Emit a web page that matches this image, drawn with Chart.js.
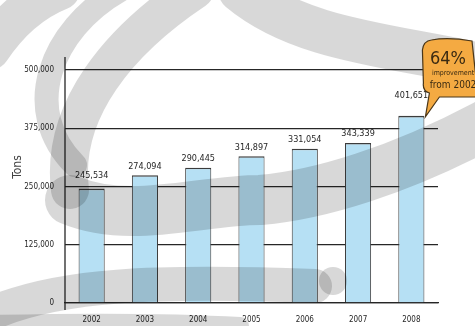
<!DOCTYPE html>
<html>
<head>
<meta charset="utf-8">
<script src="https://cdn.jsdelivr.net/npm/chart.js@4.4.1/dist/chart.umd.min.js"></script>
<style>
  html, body { margin: 0; padding: 0; background: #ffffff; }
  #wrap { width: 475px; height: 326px; }
</style>
</head>
<body>
<div id="wrap"><canvas id="chart" width="475" height="326"></canvas></div>
<script>
// Annual tonnage, 2002-2008
const categories = ['2002', '2003', '2004', '2005', '2006', '2007', '2008'];
const tonnage = [245534, 274094, 290445, 314897, 331054, 343339, 401651];
const valueLabels = ['245,534', '274,094', '290,445', '314,897', '331,054', '343,339', '401,651'];
const yTicks = [0, 125000, 250000, 375000, 500000];
const yTickLabels = ['0', '125,000', '250,000', '375,000', '500,000'];
const calloutLines = ['64%', 'improvement', 'from 2002'];
const calloutIndex = 6;

const NARROW = "'Liberation Sans Narrow', 'DejaVu Sans Condensed', 'Arial Narrow', sans-serif";
const INK = '#262626';

// Soft grey emblem behind the chart, laid over with multiply
function drawEmblem(ctx) {
  ctx.save();
  ctx.globalCompositeOperation = 'multiply';
  ctx.strokeStyle = 'rgb(216,216,216)';
  ctx.fillStyle = 'rgb(216,216,216)';
  ctx.lineCap = 'round';
  ctx.lineJoin = 'round';
  const band = (w, pts) => {
    ctx.lineWidth = w;
    ctx.beginPath();
    ctx.moveTo(pts[0], pts[1]);
    for (let i = 2; i < pts.length; i += 6) {
      ctx.bezierCurveTo(pts[i], pts[i + 1], pts[i + 2], pts[i + 3], pts[i + 4], pts[i + 5]);
    }
    ctx.stroke();
  };
  band(40, [-10, 50, 10, 20, 35, 0, 60, -10]);
  band(24, [120, -10, 50, 30, 20, 110, 75, 165]);
  band(38, [195, -10, 120, 40, 60, 110, 70, 190]);
  band(50, [70, 200, 130, 225, 200, 200, 260, 200,
            320, 195, 400, 170, 485, 125]);
  band(34, [-5, 312, 60, 285, 150, 280, 315, 286]);
  band(44, [240, -10, 300, 40, 390, 45, 480, 65]);
  band(18, [-10, 324, 80, 322, 170, 322, 240, 326]);
  ctx.beginPath();
  ctx.arc(333, 281, 14, 0, Math.PI * 2);
  ctx.fill();
  ctx.restore();
}

function drawCallout(chart) {
  const ctx = chart.ctx;
  const hb = chart.getDatasetMeta(0).data[calloutIndex];
  const tipX = hb.x + hb.width / 2 + 1;
  const tipY = hb.y;
  const L = tipX - 2, T = 40, R = 478, B = 97;
  ctx.save();
  ctx.beginPath();
  ctx.moveTo(L + 8, T);
  ctx.quadraticCurveTo(L + 25, T - 3, R - 6, T + 1);
  ctx.lineTo(R, B);
  ctx.lineTo(L + 16, B);
  ctx.lineTo(tipX, tipY + 1);
  ctx.lineTo(L + 6, B - 4);
  ctx.quadraticCurveTo(L - 1, B - 6, L, B - 14);
  ctx.lineTo(L - 1, T + 10);
  ctx.quadraticCurveTo(L, T + 1, L + 8, T);
  ctx.closePath();
  ctx.fillStyle = 'rgb(244,170,66)';
  ctx.fill();
  ctx.strokeStyle = '#4a3618';
  ctx.lineWidth = 1.2;
  ctx.stroke();

  ctx.fillStyle = '#3a2a12';
  ctx.textAlign = 'center';
  ctx.textBaseline = 'middle';
  ctx.font = '18px ' + NARROW;
  ctx.fillText(calloutLines[0], 448, 59);
  ctx.font = '7px ' + NARROW;
  ctx.fillText(calloutLines[1], 453, 73);
  ctx.font = '10px ' + NARROW;
  ctx.fillText(calloutLines[2], 453, 85);
  ctx.restore();
}

const annotations = {
  id: 'annotations',
  beforeDraw(chart) {
    const ctx = chart.ctx;
    ctx.save();
    ctx.fillStyle = '#ffffff';
    ctx.fillRect(0, 0, chart.width, chart.height);
    ctx.restore();
  },
  afterDatasetsDraw(chart) {
    const ctx = chart.ctx;
    const y = chart.scales.y;
    const area = chart.chartArea;
    const meta = chart.getDatasetMeta(0);

    // axis line runs a little past the plot area
    ctx.save();
    ctx.strokeStyle = INK;
    ctx.lineWidth = 1.3;
    ctx.beginPath();
    ctx.moveTo(area.left, area.top - 13);
    ctx.lineTo(area.left, area.bottom + 7);
    ctx.stroke();

    // axis title
    ctx.translate(18, 167);
    ctx.rotate(-Math.PI / 2);
    ctx.fillStyle = '#444';
    ctx.font = '12px ' + NARROW;
    ctx.textAlign = 'center';
    ctx.textBaseline = 'middle';
    ctx.fillText('Tons', 0, 0);
    ctx.restore();

    // value labels above each bar
    const gridPx = yTicks.map(v => y.getPixelForValue(v));
    ctx.save();
    ctx.fillStyle = INK;
    ctx.font = '9px ' + NARROW;
    ctx.textAlign = 'center';
    ctx.textBaseline = 'middle';
    meta.data.forEach((bar, i) => {
      let ly = bar.y - 9;
      if (i === calloutIndex) ly = bar.y - 20;
      const clash = gridPx.find(g => g < bar.y + 2 && g > bar.y - 14);
      if (clash !== undefined) ly = clash - 11;
      ctx.fillText(valueLabels[i], bar.x, ly);
    });
    ctx.restore();
  },
  afterDraw(chart) {
    drawEmblem(chart.ctx);
    drawCallout(chart);
  }
};

new Chart(document.getElementById('chart'), {
  type: 'bar',
  data: {
    labels: categories,
    datasets: [{
      data: tonnage,
      backgroundColor: 'rgb(182,224,244)',
      borderColor: '#3c3c3c',
      borderWidth: { top: 1.6, left: 1, right: 1, bottom: 0 },
      borderSkipped: 'bottom',
      barPercentage: 0.49,
      categoryPercentage: 1
    }]
  },
  options: {
    responsive: false,
    animation: false,
    devicePixelRatio: 1,
    layout: { padding: { left: 0, right: 37, top: 70, bottom: 0 } },
    plugins: { legend: { display: false }, tooltip: { enabled: false } },
    scales: {
      x: {
        grid: { display: false, drawTicks: false },
        border: { display: true, color: INK, width: 1.3 },
        ticks: { color: INK, padding: 12, font: { family: NARROW, size: 8 }, maxRotation: 0 },
        afterFit: s => { s.height = 23; }
      },
      y: {
        min: 0,
        max: 500000,
        afterBuildTicks: s => { s.ticks = yTicks.map(v => ({ value: v })); },
        grid: { color: INK, lineWidth: 1.3, drawTicks: false },
        border: { display: false },
        ticks: {
          color: INK,
          padding: 11,
          font: { family: NARROW, size: 8 },
          callback: v => yTickLabels[yTicks.indexOf(v)]
        },
        afterFit: s => { s.width = 65; }
      }
    }
  },
  plugins: [annotations]
});
</script>
</body>
</html>
